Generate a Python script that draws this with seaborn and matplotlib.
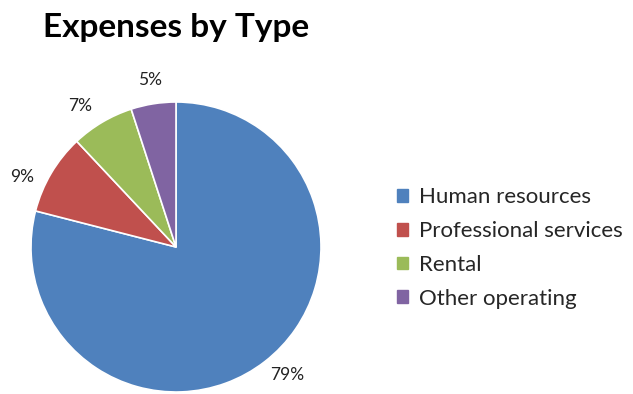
import matplotlib
matplotlib.use('Agg')
import matplotlib.pyplot as plt
import matplotlib.patches as mpatches
import seaborn as sns

# data
categories = ['Human resources', 'Professional services', 'Rental', 'Other operating']
shares = [79, 9, 7, 5]
colors = ['#4F81BD', '#C0504D', '#9BBB59', '#8064A2']

sns.set_theme(style='white')
plt.rcParams['font.family'] = ['Lato', 'DejaVu Sans']

fig = plt.figure(figsize=(6.33, 3.94), dpi=100)

# pie axes: centre ~ (176, 247) px, radius ~145 px
ax = fig.add_axes([31 / 633, 2 / 394, 290 / 633, 290 / 394])
wedges, texts = ax.pie(shares, colors=colors, startangle=90, counterclock=False,
                       labels=['{}%'.format(s) for s in shares], labeldistance=1.16,
                       wedgeprops={'edgecolor': 'white', 'linewidth': 1.2},
                       textprops={'fontsize': 12.5, 'color': '#222222'})
# excel-like label placement
label_pos = [(0.77, -0.88), (-1.06, 0.48), (-0.66, 0.97), (-0.18, 1.15)]
for t, p in zip(texts, label_pos):
    t.set_position(p)
    t.set_ha('center')
    t.set_va('center')
ax.set_xlim(-1, 1)
ax.set_ylim(-1, 1)
ax.set_aspect('equal')
ax.axis('off')

fig.text(43 / 633, 1 - 27 / 394, 'Expenses by Type', fontsize=24, fontweight='bold',
         va='center', ha='left', color='black')

handles = [mpatches.Patch(color=c, label=l) for c, l in zip(colors, categories)]
fig.legend(handles=handles, loc='center left', bbox_to_anchor=(377 / 633, 1 - 248 / 394),
           frameon=False, fontsize=16, handlelength=0.5, handleheight=0.5,
           handletextpad=0.5, labelspacing=0.62)

fig.savefig('out.png', dpi=100)
